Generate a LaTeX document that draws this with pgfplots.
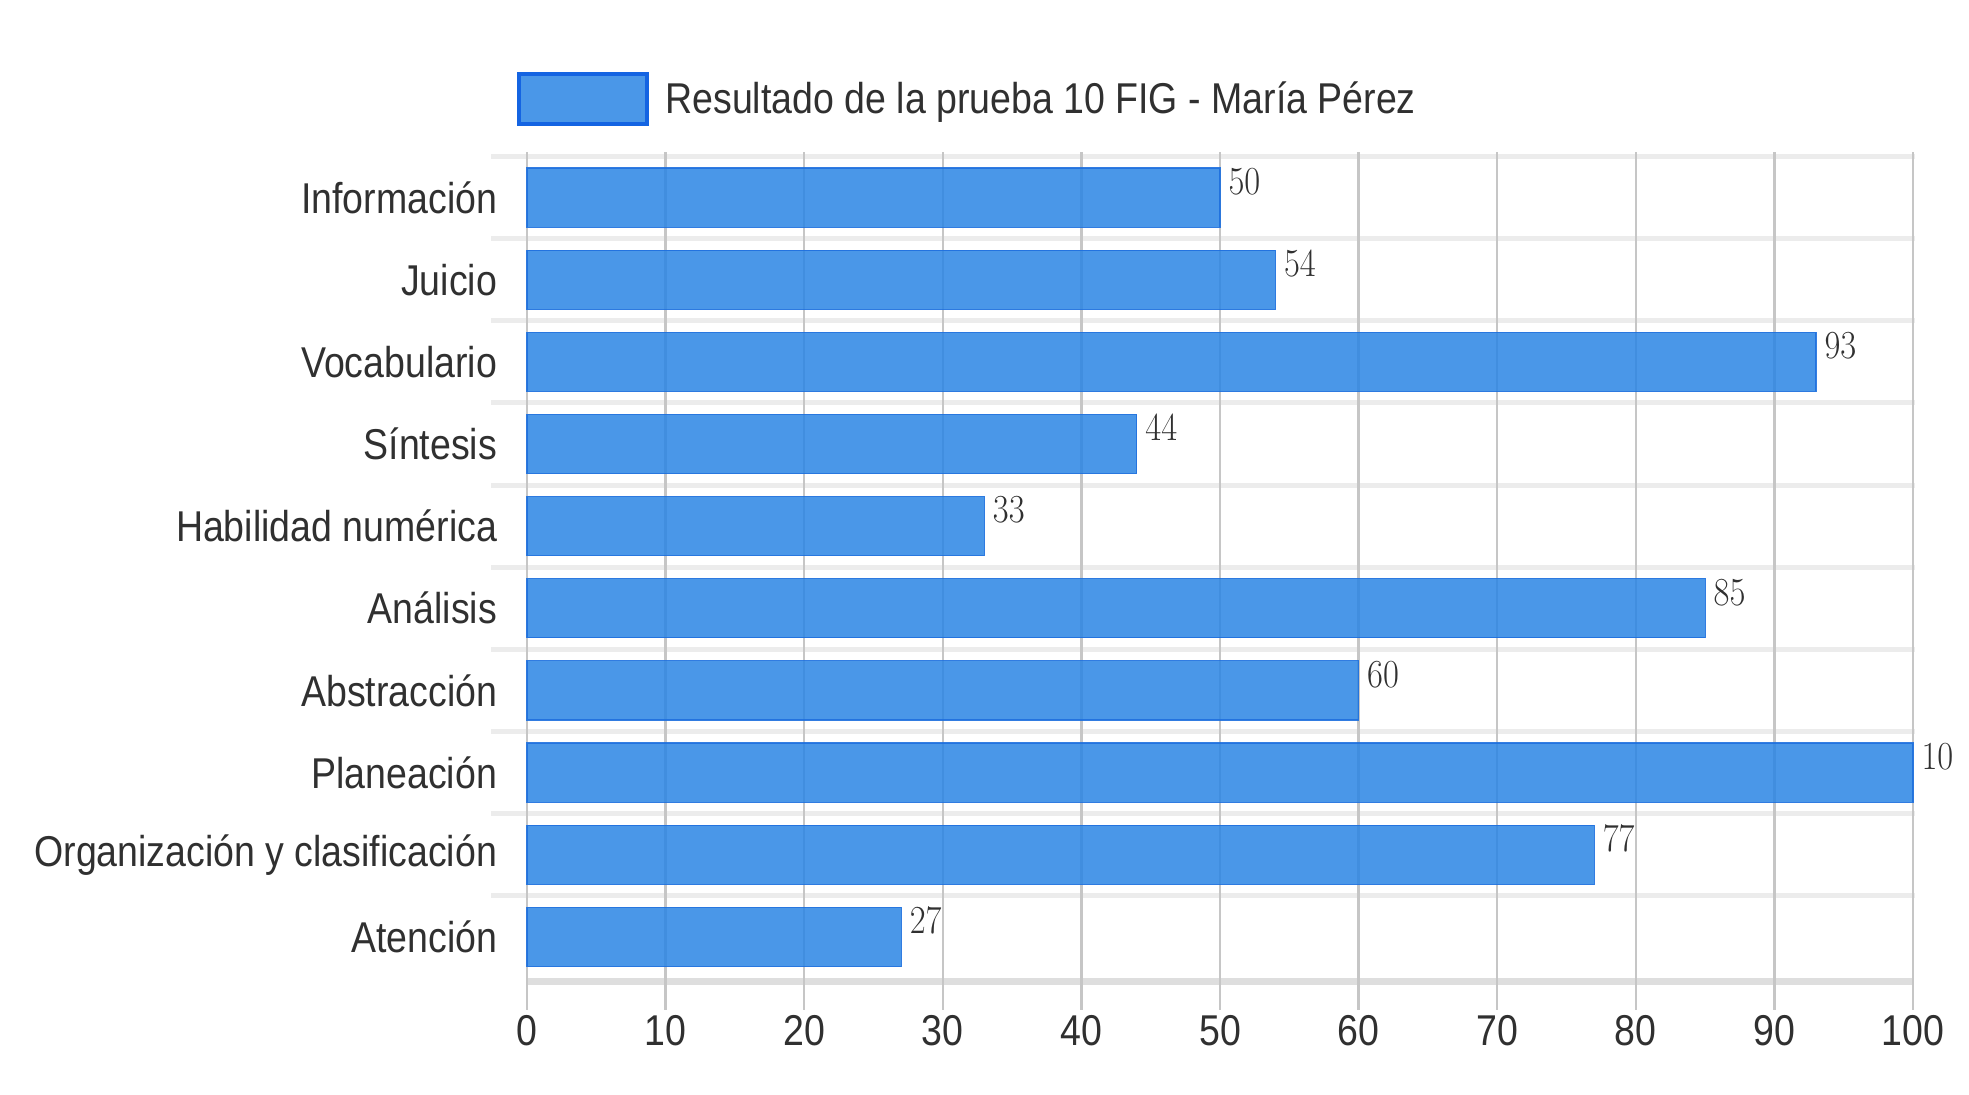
\documentclass[border=0pt]{standalone}
\usepackage{pgfplots}
\pgfplotsset{compat=1.18}
\usepackage{graphicx}
\usepackage{fontspec}
\setmainfont{Liberation Sans}
\newfontfamily\numfont{Liberation Serif}
\definecolor{barfill}{RGB}{42,133,228}
\definecolor{bardraw}{RGB}{30,112,222}
\definecolor{legfill}{RGB}{74,151,232}
\definecolor{legdraw}{RGB}{20,100,226}
\definecolor{sepgray}{RGB}{236,236,236}
\definecolor{gridgray}{RGB}{198,198,198}
\definecolor{basegray}{RGB}{222,222,222}
\definecolor{txt}{RGB}{48,48,48}
\newcommand\sy[1]{\scalebox{1}[1.15]{#1}}
\begin{document}
\begin{tikzpicture}[x=1pt,y=1pt]
\path[use as bounding box] (0,0) rectangle (984.5,547.5);
\begin{axis}[
  at={(263.5pt,58.5pt)}, anchor=south west,
  scale only axis, width=693pt, height=410.75pt,
  xmin=0, xmax=100, ymin=-0.5, ymax=9.5, y dir=reverse,
  xbar, bar width=0.72, bar shift=0pt,
  axis line style={draw=none},
  tick style={draw=none},
  xtick={0,10,...,100},
  xticklabels={\sy{0},\sy{10},\sy{20},\sy{30},\sy{40},\sy{50},\sy{60},\sy{70},\sy{80},\sy{90},\sy{100}},
  ytick={0,...,9},
  yticklabels={\sy{Información},\sy{Juicio},\sy{Vocabulario},\sy{Síntesis},\sy{Habilidad numérica},\sy{Análisis},\sy{Abstracción},\sy{Planeación},\sy{Organización y clasificación},\sy{Atención}},
  yticklabel style={anchor=east, inner sep=0pt, xshift=-10.5pt},
  xticklabel style={anchor=north, inner sep=0pt, yshift=-18.5pt},
  ticklabel style={font=\fontsize{18.75}{20}\selectfont, text=txt},
  clip=false,
  point meta=x,
  nodes near coords={\sy{\pgfmathprintnumber{\pgfplotspointmeta}}},
  nodes near coords style={anchor=north west, inner sep=0pt, xshift=4pt, yshift=14.75pt, font=\numfont\fontsize{18}{20}\selectfont, text=txt, text opacity=1},
  legend cell align=left,
  legend style={at={(axis description cs:-0.0072,1.07)}, anchor=west, draw=none, fill=none, inner sep=0pt, outer sep=0pt, font=\fontsize{18.75}{20}\selectfont, text=txt, /tikz/every even column/.append style={column sep=8pt}},
  legend image code/.code={\draw[fill=legfill, fill opacity=1, draw=legdraw, draw opacity=1, line width=2.2pt] (0pt,-12.5pt) rectangle (64pt,12.5pt);},
]
\draw[basegray, line width=3.5pt] ([yshift=-1.5pt]axis cs:0,9.5) -- ([yshift=-1.5pt]axis cs:100,9.5);
\pgfplotsinvokeforeach{-0.5,0.5,...,8.5}{\draw[sepgray, line width=2.5pt] ([xshift=-18pt]axis cs:0,#1) -- ([xshift=1pt]axis cs:100,#1);}
\pgfplotsinvokeforeach{0,10,...,100}{\draw[gridgray, line width=1.2pt] ([yshift=2pt]axis cs:#1,-0.5) -- ([yshift=-16pt]axis cs:#1,9.5);}
\addplot[fill=barfill, fill opacity=0.85, draw=bardraw, draw opacity=0.9, line width=0.6pt]
  coordinates {(50,0) (54,1) (93,2) (44,3) (33,4) (85,5) (60,6) (100,7) (77,8) (27,9)};
\addlegendentry{\hspace{6pt}\sy{Resultado de la prueba 10 FIG - María Pérez}}
\end{axis}
\fill[white] (976,150) rectangle (984.5,190);
\end{tikzpicture}
\end{document}
